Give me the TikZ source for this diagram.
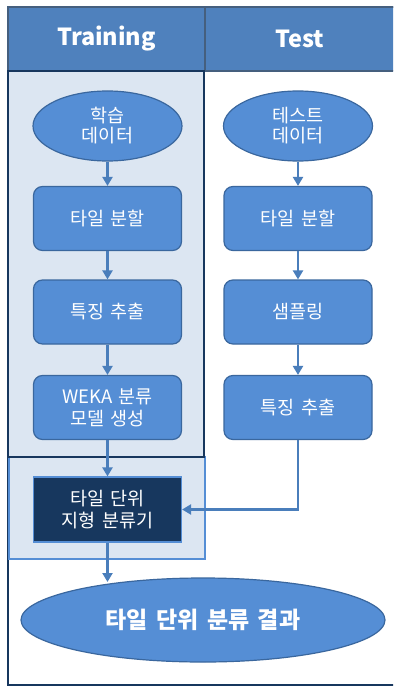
\documentclass[tikz,border=0pt]{standalone}
\usepackage{fontspec}
\setmainfont[WordSpace=1.6]{Noto Sans CJK KR}
\usetikzlibrary{arrows.meta,shapes.geometric}
\definecolor{hdr}{HTML}{4F81BD}
\definecolor{nodefill}{HTML}{558ED5}
\definecolor{nodeedge}{HTML}{3A679E}
\definecolor{navy}{HTML}{17375E}
\definecolor{panel}{HTML}{DCE6F2}
\definecolor{arrowc}{HTML}{4A7EBB}
\tikzset{
  proc/.style={draw=nodeedge, line width=1.2pt, fill=nodefill, rounded corners=9pt,
    minimum width=148pt, minimum height=64pt, text=white, font=\fontsize{18.5}{23}\selectfont, align=center, inner sep=0pt},
  oval/.style={ellipse, draw=nodeedge, line width=1.2pt, fill=nodefill, text=white,
    font=\fontsize{18.5}{23}\selectfont, align=center, inner sep=0pt},
  flow/.style={draw=arrowc, line width=2.8pt, -{Triangle[width=10pt,length=9pt]}},
  hdrbox/.style={draw=navy!80, line width=1.5pt, fill=hdr},
}
\begin{document}
\begin{tikzpicture}[x=1pt,y=-1pt]
\useasboundingbox (0,0) rectangle (393,687);
\fill[white] (0,0) rectangle (393,687);
\begin{scope}
\clip (0,0) rectangle (393,687);
% outer frame
\draw[navy, line width=2pt] (8,7) rectangle (420,685);
% headers
\draw[hdrbox] (8,7) rectangle (205,71);
\draw[hdrbox] (205,7) rectangle (420,71);
\node[text=white, font=\fontsize{23.5}{28}\selectfont\bfseries] (htrain) at (106.5,39) {Training};
\node[text=white, font=\fontsize{23.5}{28}\selectfont\bfseries] (htest) at (300,39) {Test};
% lower panel
\draw[draw=nodefill, line width=2pt, fill=panel] (9,457) rectangle (205,559);
% training panel
\draw[draw=navy, line width=2pt, fill=panel] (8,71) rectangle (204,457);
\end{scope}
% nodes left
\node[oval, minimum width=149pt, minimum height=70pt] (ld) at (107.5,126) {학습\\[-3pt]데이터};
\node[proc] (ls) at (107.5,218.5) {타일 분할};
\node[proc] (lf) at (107.5,312) {특징 추출};
\node[proc] (lw) at (107.5,407.5) {WEKA 분류\\[-1pt]모델 생성};
\node[proc, fill=navy, draw=nodefill, rounded corners=0pt, minimum height=65pt] (cl) at (107.5,509.5) {타일 단위\\[-1pt]지형 분류기};
% nodes right
\node[oval, minimum width=149pt, minimum height=70pt] (rd) at (298,126) {테스트\\[-3pt]데이터};
\node[proc] (rs) at (298,218.5) {타일 분할};
\node[proc] (rp) at (298,312) {샘플링};
\node[proc] (rf) at (298,407.5) {특징 추출};
% result
\node[oval, minimum width=364pt, minimum height=84pt, font=\fontsize{23}{27}\selectfont\bfseries] (res) at (203,620) {타일 단위 분류 결과};
% arrows
\draw[flow] (ld) -- (ls);
\draw[flow] (ls) -- (lf);
\draw[flow] (lf) -- (lw);
\draw[flow] (lw) -- (cl);
\draw[flow] (cl.south) -- (107.5,582) coordinate (rt);
\draw[flow] (rd) -- (rs);
\draw[flow] (rs) -- (rp);
\draw[flow] (rp) -- (rf);
\draw[flow] (rf.south) |- (cl.east);
\end{tikzpicture}
\end{document}
